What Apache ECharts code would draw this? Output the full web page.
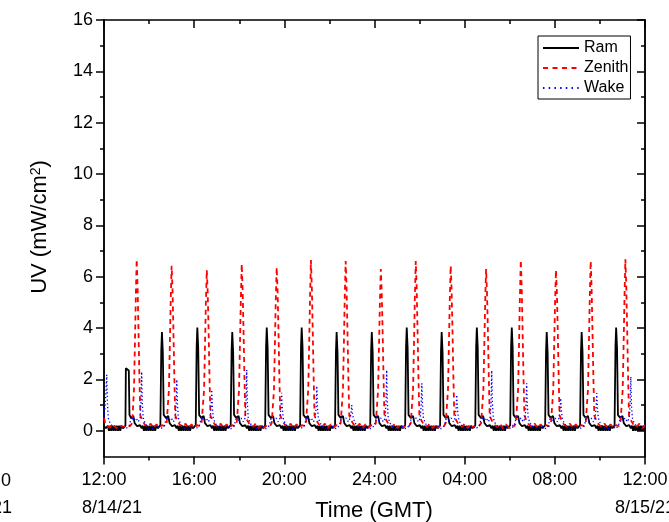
<!DOCTYPE html>
<html><head><meta charset="utf-8">
<script src="https://cdn.jsdelivr.net/npm/echarts@6/dist/echarts.min.js"></script>
<style>html,body{margin:0;padding:0;background:#fff}#c{width:669px;height:522px}</style>
</head><body><div id="c"></div>
<script>
// x: hours after 12:00 GMT on 8/14/21
const tickHours = [0, 4, 8, 12, 16, 20, 24];
const tickLabels = ['12:00', '16:00', '20:00', '24:00', '04:00', '08:00', '12:00'];
const startDate = '8/14/21';
const endDate = '8/15/21';
const yMajor = [0, 2, 4, 6, 8, 10, 12, 14, 16];
const yMinor = [1, 3, 5, 7, 9, 11, 13, 15];
const seriesNames = ['Ram', 'Zenith', 'Wake'];
const xTitle = 'Time (GMT)';

const ramData = [
[0,0.18],[0.08,0.1],[0.12,0.05],
[0.17,0.2],[0.22,0],[0.27,0.2],[0.32,0],[0.37,0.2],[0.42,0],[0.47,0.2],[0.52,0],[0.57,0.2],[0.62,0],[0.67,0.2],[0.72,0],[0.77,0.2],[0.84,0.1],
[0.95,0.2],[0.97,2.44],[1.03,2.42],[1.1,2.35],[1.13,0.62],[1.2,0.5],[1.3,0.58],[1.36,0.3],[1.47,0.18],[1.6,0.22],[1.67,0.1],
[1.72,0.2],[1.77,0],[1.82,0.2],[1.87,0],[1.92,0.2],[1.97,0],[2.02,0.2],[2.07,0],[2.12,0.2],[2.17,0],[2.22,0.2],[2.27,0],[2.32,0.2],[2.39,0.1],
[2.5,0.22],[2.54,3.1],[2.57,3.85],[2.61,3.05],[2.65,0.62],[2.75,0.5],[2.85,0.58],[2.91,0.3],[3.02,0.18],[3.15,0.22],[3.22,0.1],
[3.27,0.2],[3.32,0],[3.37,0.2],[3.42,0],[3.47,0.2],[3.52,0],[3.57,0.2],[3.62,0],[3.67,0.2],[3.72,0],[3.77,0.2],[3.82,0],[3.87,0.2],[3.94,0.1],
[4.07,0.22],[4.11,3.27],[4.14,4.02],[4.18,3.22],[4.22,0.62],[4.32,0.5],[4.42,0.58],[4.48,0.3],[4.59,0.18],[4.72,0.22],[4.79,0.1],
[4.84,0.2],[4.89,0],[4.94,0.2],[4.99,0],[5.04,0.2],[5.09,0],[5.14,0.2],[5.19,0],[5.24,0.2],[5.29,0],[5.34,0.2],[5.39,0],[5.44,0.2],[5.51,0.1],
[5.62,0.22],[5.66,3.1],[5.69,3.85],[5.73,3.05],[5.77,0.62],[5.87,0.5],[5.97,0.58],[6.03,0.3],[6.14,0.18],[6.27,0.22],[6.34,0.1],
[6.39,0.2],[6.44,0],[6.49,0.2],[6.54,0],[6.59,0.2],[6.64,0],[6.69,0.2],[6.74,0],[6.79,0.2],[6.84,0],[6.89,0.2],[6.94,0],[6.99,0.2],[7.06,0.1],
[7.15,0.22],[7.19,3.27],[7.22,4.02],[7.26,3.22],[7.3,0.62],[7.4,0.5],[7.5,0.58],[7.56,0.3],[7.67,0.18],[7.8,0.22],[7.87,0.1],
[7.92,0.2],[7.97,0],[8.02,0.2],[8.07,0],[8.12,0.2],[8.17,0],[8.22,0.2],[8.27,0],[8.32,0.2],[8.37,0],[8.42,0.2],[8.47,0],[8.52,0.2],[8.59,0.1],
[8.7,0.22],[8.74,3.27],[8.77,4.02],[8.81,3.22],[8.85,0.62],[8.95,0.5],[9.05,0.58],[9.11,0.3],[9.22,0.18],[9.35,0.22],[9.42,0.1],
[9.47,0.2],[9.52,0],[9.57,0.2],[9.62,0],[9.67,0.2],[9.72,0],[9.77,0.2],[9.82,0],[9.87,0.2],[9.92,0],[9.97,0.2],[10.02,0],[10.07,0.2],[10.14,0.1],
[10.25,0.22],[10.29,3.1],[10.32,3.85],[10.36,3.05],[10.4,0.62],[10.5,0.5],[10.6,0.58],[10.66,0.3],[10.77,0.18],[10.9,0.22],[10.97,0.1],
[11.02,0.2],[11.07,0],[11.12,0.2],[11.17,0],[11.22,0.2],[11.27,0],[11.32,0.2],[11.37,0],[11.42,0.2],[11.47,0],[11.52,0.2],[11.57,0],[11.62,0.2],[11.69,0.1],
[11.81,0.22],[11.85,3.1],[11.88,3.85],[11.92,3.05],[11.96,0.62],[12.06,0.5],[12.16,0.58],[12.22,0.3],[12.33,0.18],[12.46,0.22],[12.53,0.1],
[12.58,0.2],[12.63,0],[12.68,0.2],[12.73,0],[12.78,0.2],[12.83,0],[12.88,0.2],[12.93,0],[12.98,0.2],[13.03,0],[13.08,0.2],[13.13,0],[13.18,0.2],[13.25,0.1],
[13.36,0.22],[13.4,3.27],[13.43,4.02],[13.47,3.22],[13.51,0.62],[13.61,0.5],[13.71,0.58],[13.77,0.3],[13.88,0.18],[14.01,0.22],[14.08,0.1],
[14.13,0.2],[14.18,0],[14.23,0.2],[14.28,0],[14.33,0.2],[14.38,0],[14.43,0.2],[14.48,0],[14.53,0.2],[14.58,0],[14.63,0.2],[14.68,0],[14.73,0.2],[14.8,0.1],
[14.91,0.22],[14.95,3.1],[14.98,3.85],[15.02,3.05],[15.06,0.62],[15.16,0.5],[15.26,0.58],[15.32,0.3],[15.43,0.18],[15.56,0.22],[15.63,0.1],
[15.68,0.2],[15.73,0],[15.78,0.2],[15.83,0],[15.88,0.2],[15.93,0],[15.98,0.2],[16.03,0],[16.08,0.2],[16.13,0],[16.18,0.2],[16.23,0],[16.28,0.2],[16.35,0.1],
[16.47,0.22],[16.51,3.27],[16.54,4.02],[16.58,3.22],[16.62,0.62],[16.72,0.5],[16.82,0.58],[16.88,0.3],[16.99,0.18],[17.12,0.22],[17.19,0.1],
[17.24,0.2],[17.29,0],[17.34,0.2],[17.39,0],[17.44,0.2],[17.49,0],[17.54,0.2],[17.59,0],[17.64,0.2],[17.69,0],[17.74,0.2],[17.79,0],[17.84,0.2],[17.91,0.1],
[18.02,0.22],[18.06,3.27],[18.09,4.02],[18.13,3.22],[18.17,0.62],[18.27,0.5],[18.37,0.58],[18.43,0.3],[18.54,0.18],[18.67,0.22],[18.74,0.1],
[18.79,0.2],[18.84,0],[18.89,0.2],[18.94,0],[18.99,0.2],[19.04,0],[19.09,0.2],[19.14,0],[19.19,0.2],[19.24,0],[19.29,0.2],[19.34,0],[19.39,0.2],[19.46,0.1],
[19.57,0.22],[19.61,3.1],[19.64,3.85],[19.68,3.05],[19.72,0.62],[19.82,0.5],[19.92,0.58],[19.98,0.3],[20.09,0.18],[20.22,0.22],[20.29,0.1],
[20.34,0.2],[20.39,0],[20.44,0.2],[20.49,0],[20.54,0.2],[20.59,0],[20.64,0.2],[20.69,0],[20.74,0.2],[20.79,0],[20.84,0.2],[20.89,0],[20.94,0.2],[21.01,0.1],
[21.12,0.22],[21.16,3.1],[21.19,3.85],[21.23,3.05],[21.27,0.62],[21.37,0.5],[21.47,0.58],[21.53,0.3],[21.64,0.18],[21.77,0.22],[21.84,0.1],
[21.89,0.2],[21.94,0],[21.99,0.2],[22.04,0],[22.09,0.2],[22.14,0],[22.19,0.2],[22.24,0],[22.29,0.2],[22.34,0],[22.39,0.2],[22.44,0],[22.49,0.2],[22.56,0.1],
[22.65,0.22],[22.69,3.27],[22.72,4.02],[22.76,3.22],[22.8,0.62],[22.9,0.5],[23.0,0.58],[23.06,0.3],[23.17,0.18],[23.3,0.22],[23.37,0.1],
[23.42,0.2],[23.47,0],[23.52,0.2],[23.57,0],[23.62,0.2],[23.67,0],[23.72,0.2],[23.77,0],[23.82,0.2],[23.87,0],[23.92,0.2],[23.97,0],[24.0,0.1]
];

const zenithData = [
[0,0.5],[0.06,0.3],[0.12,0.2],[0.25,0.12],[0.4,0.25],[0.55,0.1],[0.7,0.22],[0.85,0.15],[1.0,0.22],[1.15,0.18],[1.25,0.3],
[1.29,0.35],[1.33,1.6],[1.37,3.3],[1.41,5.2],[1.45,6.68],[1.49,5.6],[1.53,3.9],[1.57,2.1],[1.61,0.6],[1.69,0.42],[1.8,0.25],[1.95,0.15],[2.07,0.28],[2.2,0.1],[2.33,0.25],[2.45,0.12],[2.57,0.22],[2.7,0.18],[2.78,0.3],
[2.84,0.35],[2.88,1.6],[2.92,3.3],[2.96,5.1],[3.0,6.43],[3.04,5.5],[3.08,3.9],[3.12,2.1],[3.16,0.6],[3.24,0.42],[3.35,0.25],[3.5,0.15],[3.62,0.28],[3.75,0.1],[3.88,0.25],[4.0,0.12],[4.12,0.22],[4.25,0.18],[4.33,0.3],
[4.4,0.35],[4.44,1.6],[4.48,3.3],[4.52,5.0],[4.56,6.26],[4.6,5.4],[4.64,3.9],[4.68,2.1],[4.72,0.6],[4.8,0.42],[4.91,0.25],[5.06,0.15],[5.18,0.28],[5.31,0.1],[5.44,0.25],[5.56,0.12],[5.68,0.22],[5.81,0.18],[5.89,0.3],
[5.95,0.35],[5.99,1.6],[6.03,3.3],[6.07,5.1],[6.11,6.5],[6.15,5.5],[6.19,3.9],[6.23,2.1],[6.27,0.6],[6.35,0.42],[6.46,0.25],[6.61,0.15],[6.73,0.28],[6.86,0.1],[6.99,0.25],[7.11,0.12],[7.23,0.22],[7.36,0.18],[7.44,0.3],
[7.5,0.35],[7.54,1.6],[7.58,3.3],[7.62,5.1],[7.66,6.37],[7.7,5.5],[7.74,3.9],[7.78,2.1],[7.82,0.6],[7.9,0.42],[8.01,0.25],[8.16,0.15],[8.28,0.28],[8.41,0.1],[8.54,0.25],[8.66,0.12],[8.78,0.22],[8.91,0.18],[8.96,0.3],
[9.02,0.35],[9.06,1.6],[9.1,3.3],[9.14,5.2],[9.18,6.65],[9.22,5.6],[9.26,3.9],[9.3,2.1],[9.34,0.6],[9.42,0.42],[9.53,0.25],[9.68,0.15],[9.8,0.28],[9.93,0.1],[10.06,0.25],[10.18,0.12],[10.3,0.22],[10.43,0.18],[10.5,0.3],
[10.56,0.35],[10.6,1.6],[10.64,3.3],[10.68,5.2],[10.72,6.61],[10.76,5.6],[10.8,3.9],[10.84,2.1],[10.88,0.6],[10.96,0.42],[11.07,0.25],[11.22,0.15],[11.34,0.28],[11.47,0.1],[11.6,0.25],[11.72,0.12],[11.84,0.22],[11.97,0.18],[12.06,0.3],
[12.12,0.35],[12.16,1.6],[12.2,3.3],[12.24,5.0],[12.28,6.3],[12.32,5.4],[12.36,3.9],[12.4,2.1],[12.44,0.6],[12.52,0.42],[12.63,0.25],[12.78,0.15],[12.9,0.28],[13.03,0.1],[13.16,0.25],[13.28,0.12],[13.4,0.22],[13.53,0.18],[13.61,0.3],
[13.67,0.35],[13.71,1.6],[13.75,3.3],[13.79,5.2],[13.83,6.61],[13.87,5.6],[13.91,3.9],[13.95,2.1],[13.99,0.6],[14.07,0.42],[14.18,0.25],[14.33,0.15],[14.45,0.28],[14.58,0.1],[14.71,0.25],[14.83,0.12],[14.95,0.22],[15.08,0.18],[15.16,0.3],
[15.22,0.35],[15.26,1.6],[15.3,3.3],[15.34,5.1],[15.38,6.43],[15.42,5.5],[15.46,3.9],[15.5,2.1],[15.54,0.6],[15.62,0.42],[15.73,0.25],[15.88,0.15],[16.0,0.28],[16.13,0.1],[16.26,0.25],[16.38,0.12],[16.5,0.22],[16.63,0.18],[16.73,0.3],
[16.79,0.35],[16.83,1.6],[16.87,3.3],[16.91,5.0],[16.95,6.3],[16.99,5.4],[17.03,3.9],[17.07,2.1],[17.11,0.6],[17.19,0.42],[17.3,0.25],[17.45,0.15],[17.57,0.28],[17.7,0.1],[17.83,0.25],[17.95,0.12],[18.07,0.22],[18.2,0.18],[18.27,0.3],
[18.33,0.35],[18.37,1.6],[18.41,3.3],[18.45,5.2],[18.49,6.65],[18.53,5.6],[18.57,3.9],[18.61,2.1],[18.65,0.6],[18.73,0.42],[18.84,0.25],[18.99,0.15],[19.11,0.28],[19.24,0.1],[19.37,0.25],[19.49,0.12],[19.61,0.22],[19.74,0.18],[19.83,0.3],
[19.89,0.35],[19.93,1.6],[19.97,3.3],[20.01,5.0],[20.05,6.26],[20.09,5.4],[20.13,3.9],[20.17,2.1],[20.21,0.6],[20.29,0.42],[20.4,0.25],[20.55,0.15],[20.67,0.28],[20.8,0.1],[20.93,0.25],[21.05,0.12],[21.17,0.22],[21.3,0.18],[21.37,0.3],
[21.43,0.35],[21.47,1.6],[21.51,3.3],[21.55,5.2],[21.59,6.61],[21.63,5.6],[21.67,3.9],[21.71,2.1],[21.75,0.6],[21.83,0.42],[21.94,0.25],[22.09,0.15],[22.21,0.28],[22.34,0.1],[22.47,0.25],[22.59,0.12],[22.71,0.22],[22.84,0.18],[22.91,0.3],
[22.97,0.35],[23.01,1.6],[23.05,3.3],[23.09,5.2],[23.13,6.68],[23.17,5.6],[23.21,3.9],[23.25,2.1],[23.29,0.6],[23.37,0.42],[23.48,0.25],[23.63,0.15],[23.75,0.28],[23.88,0.1],[24.0,0.22]
];

const wakeData = [
[0,0.55],[0.05,1.0],[0.09,1.6],[0.12,2.18],[0.15,1.1],[0.19,0.5],[0.27,0.3],[0.42,0.12],[0.62,0.08],[0.82,0.18],[0.97,0.08],
[1.12,0.2],[1.22,0.55],[1.32,0.4],[1.42,0.5],[1.52,0.35],[1.6,0.5],[1.64,1.1],[1.67,2.3],[1.7,1.1],[1.74,0.5],[1.82,0.3],[1.97,0.12],[2.17,0.08],[2.37,0.18],[2.52,0.08],
[2.68,0.2],[2.78,0.55],[2.88,0.4],[2.98,0.5],[3.08,0.35],[3.16,0.5],[3.2,1.0],[3.23,2.0],[3.26,1.0],[3.3,0.5],[3.38,0.3],[3.53,0.12],[3.73,0.08],[3.93,0.18],[4.08,0.08],
[4.23,0.2],[4.33,0.55],[4.43,0.4],[4.53,0.5],[4.63,0.35],[4.71,0.5],[4.75,0.9],[4.78,1.6],[4.81,0.9],[4.85,0.5],[4.93,0.3],[5.08,0.12],[5.28,0.08],[5.48,0.18],[5.63,0.08],
[5.78,0.2],[5.88,0.55],[5.98,0.4],[6.08,0.5],[6.18,0.35],[6.26,0.5],[6.3,1.1],[6.33,2.37],[6.36,1.1],[6.4,0.5],[6.48,0.3],[6.63,0.12],[6.83,0.08],[7.03,0.18],[7.18,0.08],
[7.33,0.2],[7.43,0.55],[7.53,0.4],[7.63,0.5],[7.73,0.35],[7.81,0.5],[7.85,0.9],[7.88,1.48],[7.91,0.9],[7.95,0.5],[8.03,0.3],[8.18,0.12],[8.38,0.08],[8.58,0.18],[8.73,0.08],
[8.89,0.2],[8.99,0.55],[9.09,0.4],[9.19,0.5],[9.29,0.35],[9.37,0.5],[9.41,0.9],[9.44,1.75],[9.47,0.9],[9.51,0.5],[9.59,0.3],[9.74,0.12],[9.94,0.08],[10.14,0.18],[10.29,0.08],
[10.44,0.2],[10.54,0.55],[10.64,0.4],[10.74,0.5],[10.84,0.35],[10.92,0.5],[10.96,0.7],[10.99,1.0],[11.02,0.7],[11.06,0.5],[11.14,0.3],[11.29,0.12],[11.49,0.08],[11.69,0.18],[11.84,0.08],
[11.99,0.2],[12.09,0.55],[12.19,0.4],[12.29,0.5],[12.39,0.35],[12.47,0.5],[12.51,1.1],[12.54,2.37],[12.57,1.1],[12.61,0.5],[12.69,0.3],[12.84,0.12],[13.04,0.08],[13.24,0.18],[13.39,0.08],
[13.55,0.2],[13.65,0.55],[13.75,0.4],[13.85,0.5],[13.95,0.35],[14.03,0.5],[14.07,1.0],[14.1,1.85],[14.13,1.0],[14.17,0.5],[14.25,0.3],[14.4,0.12],[14.6,0.08],[14.8,0.18],[14.95,0.08],
[15.1,0.2],[15.2,0.55],[15.3,0.4],[15.4,0.5],[15.5,0.35],[15.58,0.5],[15.62,0.9],[15.65,1.4],[15.68,0.9],[15.72,0.5],[15.8,0.3],[15.95,0.12],[16.15,0.08],[16.35,0.18],[16.5,0.08],
[16.65,0.2],[16.75,0.55],[16.85,0.4],[16.95,0.5],[17.05,0.35],[17.13,0.5],[17.17,1.1],[17.2,2.35],[17.23,1.1],[17.27,0.5],[17.35,0.3],[17.5,0.12],[17.7,0.08],[17.9,0.18],[18.05,0.08],
[18.2,0.2],[18.3,0.55],[18.4,0.4],[18.5,0.5],[18.6,0.35],[18.68,0.5],[18.72,1.0],[18.75,1.85],[18.78,1.0],[18.82,0.5],[18.9,0.3],[19.05,0.12],[19.25,0.08],[19.45,0.18],[19.6,0.08],
[19.71,0.2],[19.81,0.55],[19.91,0.4],[20.01,0.5],[20.11,0.35],[20.19,0.5],[20.23,0.8],[20.26,1.27],[20.29,0.8],[20.33,0.5],[20.41,0.3],[20.56,0.12],[20.76,0.08],[20.96,0.18],[21.11,0.08],
[21.31,0.2],[21.41,0.55],[21.51,0.4],[21.61,0.5],[21.71,0.35],[21.79,0.5],[21.83,0.9],[21.86,1.47],[21.89,0.9],[21.93,0.5],[22.01,0.3],[22.16,0.12],[22.36,0.08],[22.56,0.18],[22.71,0.08],
[22.82,0.2],[22.92,0.55],[23.02,0.4],[23.12,0.5],[23.22,0.35],[23.3,0.5],[23.34,1.0],[23.37,2.11],[23.4,1.0],[23.44,0.5],[23.52,0.3],[23.67,0.12],[23.87,0.08],[24.0,0.15]
];

const FONT = '"Liberation Sans", Arial, sans-serif';
const chart = echarts.init(document.getElementById('c'), null, {renderer: 'canvas'});

function xLabel(v) {
  const i = tickHours.indexOf(v);
  if (i < 0) return '';
  if (v === tickHours[0]) return tickLabels[i] + '\n{dl|' + startDate + '}';
  if (v === tickHours[tickHours.length - 1]) return tickLabels[i] + '\n{dr|' + endDate + '}';
  return tickLabels[i];
}

const axisLineStyle = {color: '#000', width: 1.5};
const baseX = {
  type: 'value', min: 0, max: 24, interval: 4,
  axisLine: {show: true, onZero: false, lineStyle: axisLineStyle},
  splitLine: {show: false},
  minorTick: {show: true, splitNumber: 2, length: 4, lineStyle: {color: '#000', width: 1.5}},
  minorSplitLine: {show: false}
};
const baseY = {
  type: 'value', min: -1, max: 16,
  axisLine: {show: true, onZero: false, lineStyle: axisLineStyle},
  splitLine: {show: false}
};

chart.setOption({
  animation: false,
  backgroundColor: '#fff',
  textStyle: {fontFamily: FONT, color: '#000'},
  grid: {left: 104, right: 24, top: 20, bottom: 65.5, containLabel: false, outerBoundsMode: 'none'},
  legend: {
    data: [
      {name: seriesNames[0]},
      {name: seriesNames[1], lineStyle: {type: [5, 4.5]}},
      {name: seriesNames[2], lineStyle: {type: [1.5, 4.2]}}
    ],
    orient: 'vertical',
    left: 538, top: 36,
    padding: [4, 2, 3, 4],
    itemWidth: 36, itemHeight: 14, itemGap: 4,
    borderColor: '#000', borderWidth: 1,
    selectedMode: false,
    itemStyle: {opacity: 0},
    textStyle: {fontFamily: FONT, fontSize: 16, color: '#000'}
  },
  xAxis: [
    Object.assign({}, baseX, {
      position: 'bottom',
      axisTick: {show: true, length: 8, lineStyle: {color: '#000', width: 1.5}},
      axisLabel: {
        show: true, margin: 10, fontFamily: FONT, fontSize: 18, lineHeight: 28, color: '#000',
        showMinLabel: true, showMaxLabel: true, hideOverlap: false,
        formatter: xLabel,
        rich: {
          dl: {fontFamily: FONT, fontSize: 18, lineHeight: 28, color: '#000', padding: [0, 0, 0, 16]},
          dr: {fontFamily: FONT, fontSize: 18, lineHeight: 28, color: '#000'}
        }
      }
    }),
    Object.assign({}, baseX, {
      position: 'top',
      axisTick: {show: true, inside: true, length: 8, lineStyle: {color: '#000', width: 1.5}},
      axisLabel: {show: false}
    })
  ],
  yAxis: [
    Object.assign({}, baseY, {
      position: 'left',
      axisTick: {show: true, length: 8, customValues: yMajor, lineStyle: {color: '#000', width: 1.5}},
      axisLabel: {show: true, margin: 11, fontFamily: FONT, fontSize: 18, color: '#000', customValues: yMajor}
    }),
    Object.assign({}, baseY, {
      position: 'left',
      axisTick: {show: true, length: 4, customValues: yMinor, lineStyle: {color: '#000', width: 1.5}},
      axisLabel: {show: false}
    }),
    Object.assign({}, baseY, {
      position: 'right',
      axisTick: {show: true, inside: true, length: 8, customValues: yMajor, lineStyle: {color: '#000', width: 1.5}},
      axisLabel: {show: false}
    }),
    Object.assign({}, baseY, {
      position: 'right',
      axisTick: {show: true, inside: true, length: 4, customValues: yMinor, lineStyle: {color: '#000', width: 1.5}},
      axisLabel: {show: false}
    })
  ],
  graphic: [
    {type: 'text', x: 40, y: 227, rotation: Math.PI / 2,
     style: {text: 'UV (mW/cm{s|2})', font: '22px ' + FONT, fill: '#000', align: 'center', verticalAlign: 'middle',
       rich: {s: {fontSize: 14, fontFamily: FONT, fill: '#000', verticalAlign: 'top', padding: [0, 0, 8, 0]}}}},
    {type: 'text', x: 374, y: 511,
     style: {text: xTitle, font: '22px ' + FONT, fill: '#000', align: 'center', verticalAlign: 'middle'}},
    {type: 'text', x: 11, y: 481, style: {text: '0', font: '18px ' + FONT, fill: '#000', align: 'right', verticalAlign: 'middle'}},
    {type: 'text', x: 12, y: 508, style: {text: '21', font: '18px ' + FONT, fill: '#000', align: 'right', verticalAlign: 'middle'}}
  ],
  series: [
    {name: seriesNames[0], type: 'line', data: ramData, xAxisIndex: 0, yAxisIndex: 0,
     symbol: 'none', showSymbol: false, sampling: null, clip: true,
     lineStyle: {color: '#000', width: 1.8, type: 'solid'}, itemStyle: {color: '#000'}},
    {name: seriesNames[1], type: 'line', data: zenithData, xAxisIndex: 0, yAxisIndex: 0,
     symbol: 'none', showSymbol: false, clip: true,
     lineStyle: {color: '#ff0000', width: 1.8, type: [5, 4]}, itemStyle: {color: '#ff0000'}},
    {name: seriesNames[2], type: 'line', data: wakeData, xAxisIndex: 0, yAxisIndex: 0,
     symbol: 'none', showSymbol: false, clip: true,
     lineStyle: {color: '#0000ff', width: 1.3, type: [1.3, 2.4]}, itemStyle: {color: '#0000ff'}}
  ]
});
</script>
</body></html>
